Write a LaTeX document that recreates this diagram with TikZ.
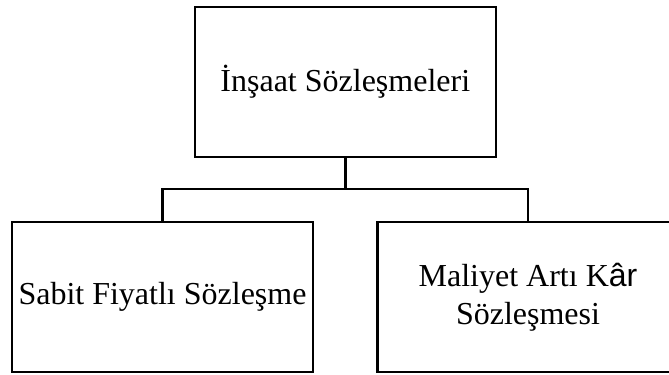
\documentclass[tikz,border=0pt]{standalone}
\usepackage{fontspec}
\setmainfont{Liberation Serif}
\newfontfamily\fallbackfont{Liberation Sans}
\usetikzlibrary{calc}

\tikzset{
    kutu/.style={draw,line width=2.6bp,minimum width=301bp,minimum height=150bp,
        inner sep=0pt,align=center,font=\fontsize{32bp}{38bp}\selectfont},
    baglanti/.style={line width=2.6bp}
}

\begin{document}
\begin{tikzpicture}[x=1bp,y=1bp]
        \useasboundingbox (0,0) rectangle (669,374);
        \fill[white] (0,0) rectangle (669,374);

        \node[kutu] (ana) at (345.3,292) {İnşaat Sözleşmeleri};
        \node[kutu] (sabit) at (162.5,77) {Sabit Fiyatlı Sözleşme};
        \node[kutu] (maliyet) at (528,77) {Maliyet Artı K{\fallbackfont âr}\\Sözleşmesi};

        \coordinate (bar) at (345.3,185);
        \draw[baglanti] (ana.south) -- (bar);
        \draw[baglanti] (bar) -| (sabit.north);
        \draw[baglanti] (bar) -| (maliyet.north);

    \end{tikzpicture}
\end{document}
